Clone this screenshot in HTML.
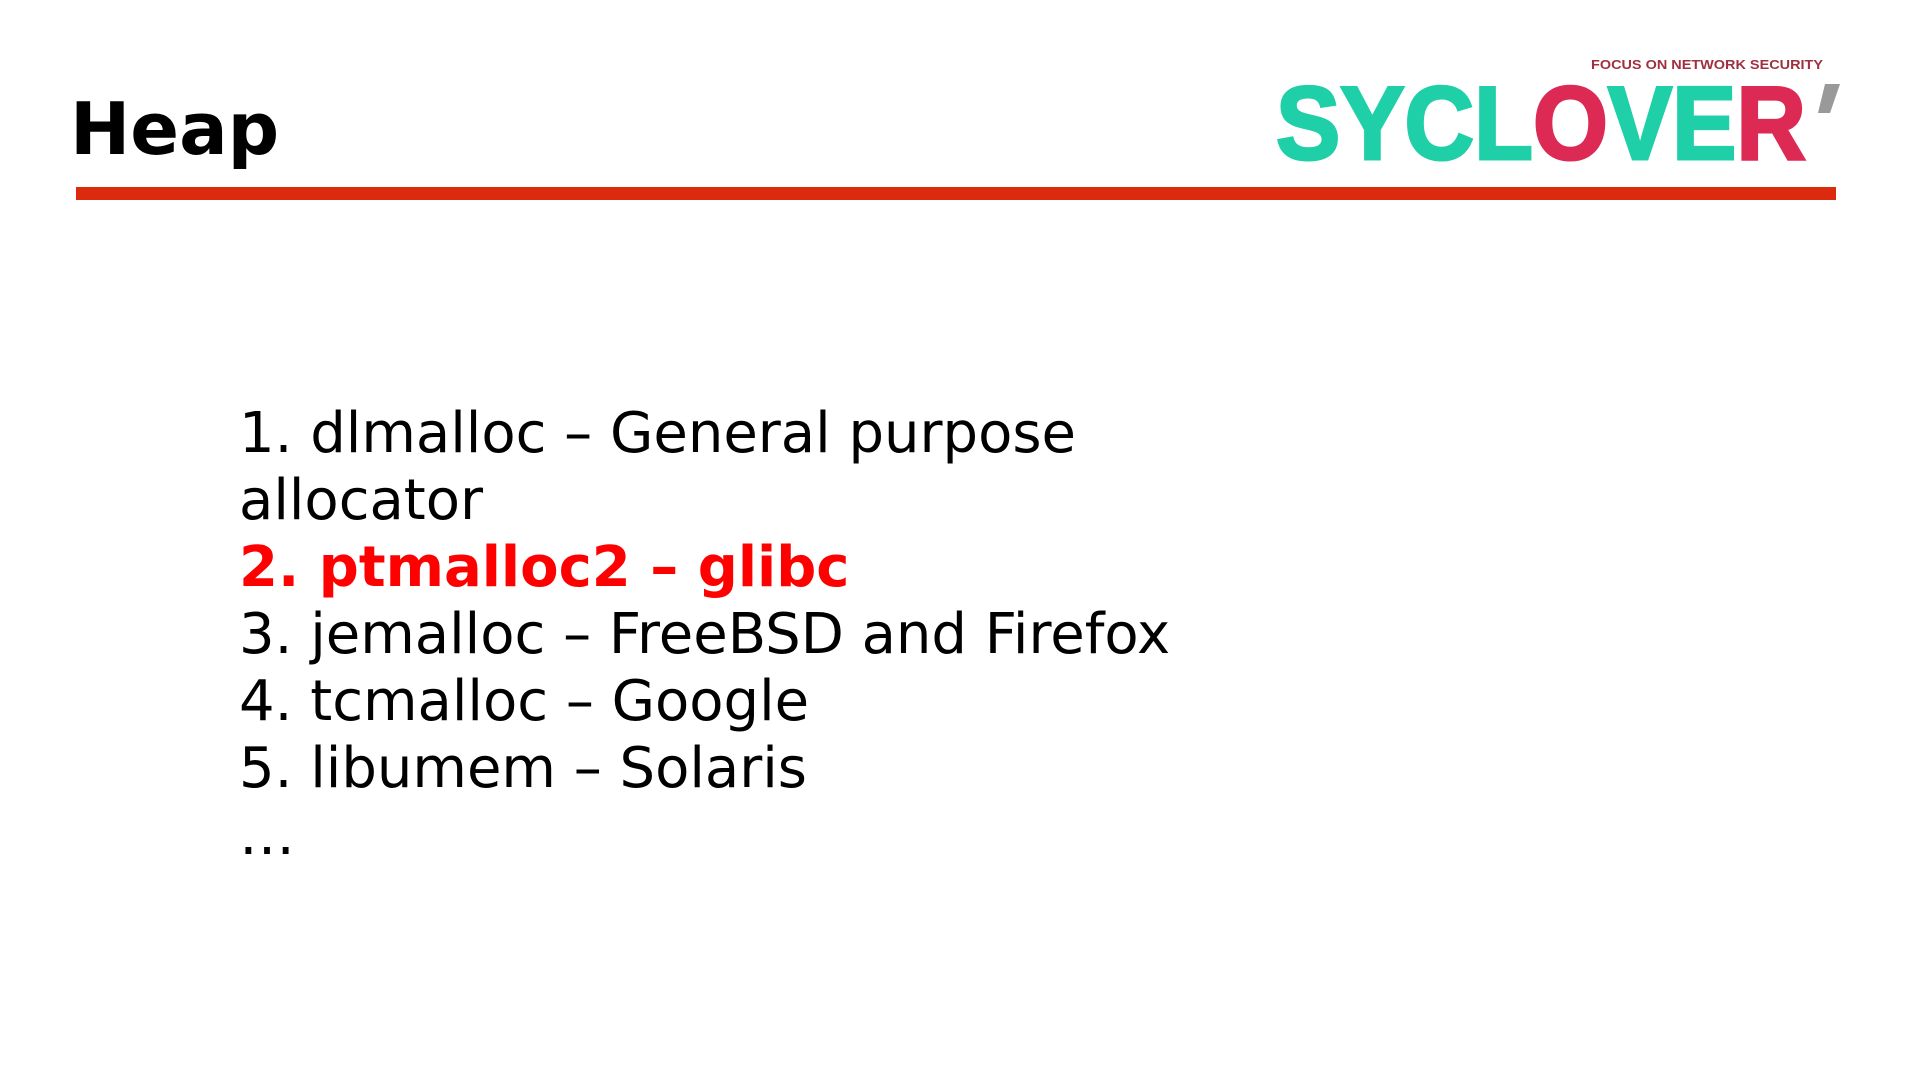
<!DOCTYPE html>
<html><head><meta charset="utf-8"><style>
html,body{margin:0;padding:0;background:#fff;width:1920px;height:1079px;overflow:hidden;position:relative}
.t{position:absolute;font-family:"DejaVu Sans","Liberation Sans",sans-serif;color:#000;white-space:nowrap}
</style></head><body>
<div class="t" style="left:70px;top:84px;font-size:72px;font-weight:bold;line-height:90px">Heap</div>
<div style="position:absolute;left:76px;top:187px;width:1760px;height:13px;background:#dc2a0e"></div>
<svg style="position:absolute;left:1260px;top:40px" width="600" height="140">
<text x="331" y="29" font-family="Liberation Sans,sans-serif" font-weight="bold" font-size="13" fill="#a03040" textLength="232" lengthAdjust="spacingAndGlyphs">FOCUS ON NETWORK SECURITY</text>
<text x="16" y="119" font-family="Liberation Sans,sans-serif" font-weight="bold" font-size="104" stroke-width="3" textLength="530" lengthAdjust="spacingAndGlyphs"><tspan fill="#1fcfa8" stroke="#1fcfa8">SYCL</tspan><tspan fill="#dc2a55" stroke="#dc2a55">O</tspan><tspan fill="#1fcfa8" stroke="#1fcfa8">VE</tspan><tspan fill="#dc2a55" stroke="#dc2a55">R</tspan></text>
<polygon points="565,44 580,44 570,73 558,73" fill="#999"/>
</svg>
<div class="t" style="left:239px;top:400px;font-size:56px;line-height:67px">
<div>1. dlmalloc – General purpose<br>allocator</div>
<div style="color:#ff0000;font-weight:bold">2. ptmalloc2 – glibc</div>
<div>3. jemalloc – FreeBSD and Firefox</div>
<div>4. tcmalloc – Google</div>
<div>5. libumem – Solaris</div>
<div>…</div>
</div>
</body></html>
